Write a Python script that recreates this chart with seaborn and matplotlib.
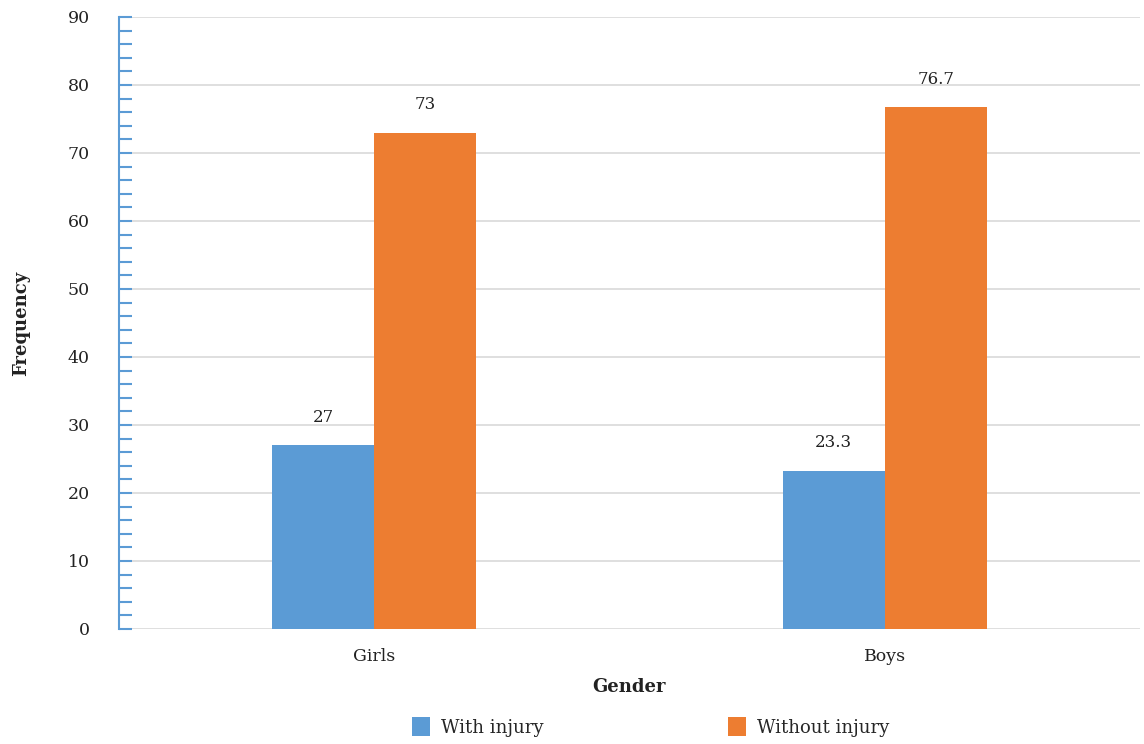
import matplotlib
matplotlib.use("Agg")
import matplotlib.pyplot as plt
import seaborn as sns
import pandas as pd
from matplotlib.ticker import MultipleLocator
from matplotlib.patches import Patch

categories = ["Girls", "Boys"]
series_names = ["With injury", "Without injury"]
with_injury = [27, 23.3]
without_injury = [73, 76.7]
value_labels_with = ["27", "23.3"]
value_labels_without = ["73", "76.7"]
colors = ["#5B9BD5", "#ED7D31"]

df = pd.DataFrame({
    "Gender": categories * 2,
    "Series": [series_names[0]] * 2 + [series_names[1]] * 2,
    "Frequency": with_injury + without_injury,
})

sns.set_theme(style="white")
plt.rcParams["font.family"] = ["DejaVu Serif"]

fig = plt.figure(figsize=(11.44, 7.44), dpi=100)
ax = fig.add_axes([0.104, 0.1546, 0.8925, 0.8226])

sns.barplot(data=df, x="Gender", y="Frequency", hue="Series", order=categories,
            hue_order=series_names, palette=colors, width=0.4, saturation=1,
            ax=ax, legend=False, edgecolor="none", linewidth=0)

ax.set_xlim(-0.5, 1.5)
ax.set_ylim(0, 90)
ax.yaxis.set_major_locator(MultipleLocator(10))
ax.yaxis.set_minor_locator(MultipleLocator(2))
ax.grid(axis="y", which="major", color="#D9D9D9", linewidth=1.2)
ax.set_axisbelow(True)

for s in ["top", "right", "bottom"]:
    ax.spines[s].set_visible(False)
ax.spines["left"].set_color("#5B9BD5")
ax.spines["left"].set_linewidth(1.5)

ax.tick_params(axis="y", which="both", direction="in", length=9, width=1.5,
               color="#5B9BD5", labelsize=12.5, labelcolor="#222222", pad=21, left=True)
ax.tick_params(axis="x", length=0, labelsize=12.5, labelcolor="#222222", pad=14)

labels_by_container = [value_labels_with, value_labels_without]
for cont, labs in zip(ax.containers, labels_by_container):
    ax.bar_label(cont, labels=labs, padding=14, fontsize=12, color="#222222")

ax.set_xlabel("Gender", fontsize=13, fontweight="bold", color="#222222", labelpad=9)
ax.set_ylabel("Frequency", fontsize=13, fontweight="bold", color="#222222", labelpad=27)

handles = [Patch(facecolor=c, edgecolor="none") for c in colors]
fig.legend(handles, series_names, loc="lower center", bbox_to_anchor=(0.5686, -0.012),
           ncol=2, frameon=False, fontsize=13, handlelength=1.0, handleheight=1.3,
           handletextpad=0.6, columnspacing=10.2)

fig.savefig("out.png", dpi=100)
